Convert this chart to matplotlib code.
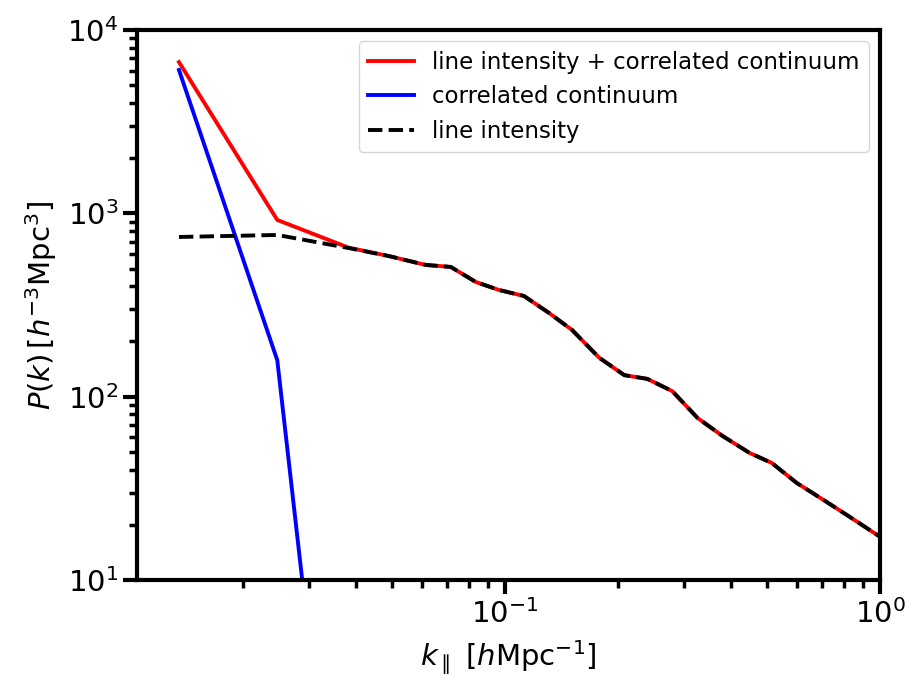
import matplotlib
matplotlib.use("Agg")
import matplotlib.pyplot as plt

k = [0.01352, 0.02472, 0.03827, 0.04896, 0.06147, 0.07172, 0.08364, 0.09638,
     0.1124, 0.1311, 0.1510, 0.1784, 0.2081, 0.2397, 0.2796, 0.3262, 0.3804,
     0.4491, 0.5143, 0.6000, 0.6996, 0.8162, 1.0]
p_line = [743, 762, 647, 585, 523, 510, 422, 382, 354, 286, 231, 163, 131, 125,
          107, 76.5, 61, 49.3, 43.5, 33.8, 27.7, 22.6, 17.2]
p_total = [6680, 920, 650, 585, 523, 510, 422, 382, 354, 286, 231, 163, 131, 125,
           107, 76.5, 61, 49.3, 43.5, 33.8, 27.7, 22.6, 17.2]
k_cont = [0.01352, 0.02472, 0.03827]
p_cont = [6050, 158, 0.06]

fig = plt.figure(figsize=(9.24, 6.96), dpi=100)
ax = fig.add_axes([0.1483, 0.1667, 0.8041, 0.7902])

ax.plot(k, p_total, color='red', lw=2.8, label='line intensity + correlated continuum')
ax.plot(k_cont, p_cont, color='blue', lw=2.8, label='correlated continuum')
ax.plot(k, p_line, color='black', lw=2.8, ls='--', label='line intensity')

ax.set_xscale('log')
ax.set_yscale('log')
ax.set_xlim(0.01045, 1.0)
ax.set_ylim(10, 1e4)

for s in ax.spines.values():
    s.set_linewidth(3)
ax.tick_params(which='major', length=10, width=3, labelsize=21)
ax.tick_params(which='minor', length=6, width=2.5)

ax.set_xlabel(r'$k_\parallel\ [h{\rm Mpc}^{-1}]$', fontsize=21, labelpad=7)
ax.set_ylabel(r'$P(k)\,[h^{-3}{\rm Mpc}^3]$', fontsize=21, labelpad=6)

ax.legend(loc='upper right', fontsize=16.5)

fig.savefig('out.png', dpi=100)
